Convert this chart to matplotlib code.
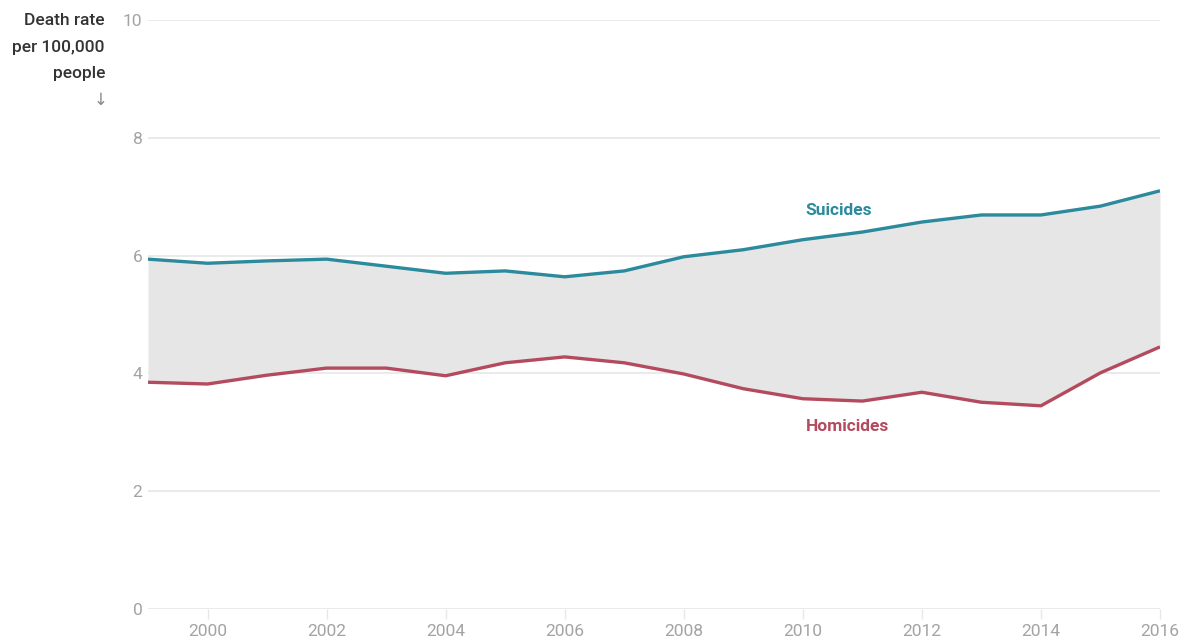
import matplotlib
matplotlib.use("Agg")
import matplotlib.pyplot as plt

years = list(range(1999, 2017))
suicides = [5.94, 5.87, 5.91, 5.94, 5.82, 5.70, 5.74, 5.64, 5.74, 5.98,
            6.10, 6.27, 6.40, 6.57, 6.69, 6.69, 6.84, 7.10]
homicides = [3.85, 3.82, 3.97, 4.09, 4.09, 3.96, 4.18, 4.28, 4.18, 3.99,
             3.74, 3.57, 3.53, 3.68, 3.51, 3.45, 4.01, 4.45]
yticks = [0, 2, 4, 6, 8, 10]
xticks = list(range(2000, 2017, 2))

teal = "#2b8a9c"
red = "#b44a5d"
grid_c = "#e8e8e8"
tick_c = "#a3a3a3"

plt.rcParams['font.family'] = ['Roboto', 'DejaVu Sans']

fig = plt.figure(figsize=(11.86, 6.37), dpi=100)
ax = fig.add_axes([148/1186, 1-609/637, (1160-148)/1186, (609-20)/637])

ax.fill_between(years, homicides, suicides, color="#e6e6e6", lw=0, zorder=1)
ax.plot(years, suicides, color=teal, lw=2.4, zorder=3, solid_capstyle='butt')
ax.plot(years, homicides, color=red, lw=2.4, zorder=3, solid_capstyle='butt')

ax.set_xlim(1999, 2016)
ax.set_ylim(0, 10)
ax.set_yticks(yticks)
ax.set_xticks(xticks)
ax.set_yticklabels([str(v) for v in yticks])
ax.set_xticklabels([str(v) for v in xticks])
for y in yticks:
    ax.axhline(y, color=grid_c, lw=1.3, zorder=0)
for s in ax.spines.values():
    s.set_visible(False)
ax.tick_params(axis='y', length=0, pad=4, labelsize=12.5, labelcolor=tick_c)
ax.tick_params(axis='x', length=7, width=1, color=grid_c, pad=4,
               labelsize=12.5, labelcolor=tick_c)

ax.text(2010.6, 6.77, "Suicides", color=teal, fontsize=12.5, fontweight='bold',
        ha='center', va='center')
ax.text(2010.75, 3.09, "Homicides", color=red, fontsize=12.5, fontweight='bold',
        ha='center', va='center')

fig.text(105/1186, 1-13/637, "Death rate\nper 100,000\npeople", ha='right', va='top',
         fontsize=12.5, color="#333333", fontweight='medium', linespacing=1.97)
fig.text(101/1186, 1-100/637, "\u2193", ha='center', va='center',
         fontsize=12, color="#888888")

fig.savefig("out.png", dpi=100)
